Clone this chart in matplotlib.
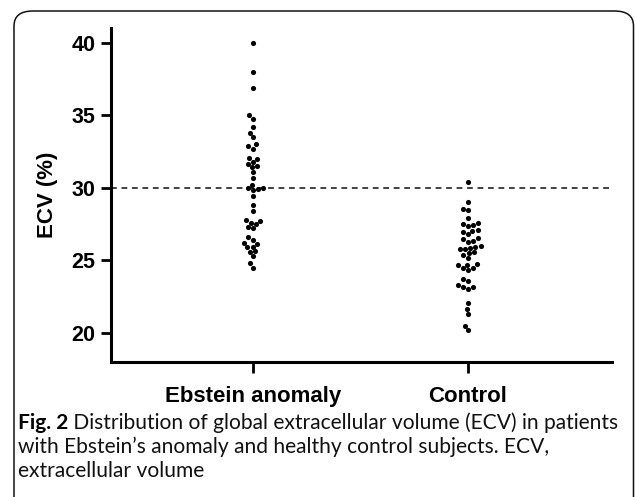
import pandas as pd
import matplotlib.pyplot as plt
import seaborn as sns
from matplotlib.patches import FancyBboxPatch

# ECV values (%)
ebstein = [40.0, 38.0, 36.85, 35.0, 34.75, 34.2, 33.8, 33.5, 33.0, 32.9, 32.7,
           32.05, 32.0, 31.8, 31.65, 31.5, 31.45, 31.1, 30.7, 30.2, 30.0, 29.95,
           29.9, 29.85, 29.4, 28.8, 28.4, 27.8, 27.7, 27.6, 27.5, 27.3, 27.2,
           26.6, 26.4, 26.2, 26.1, 25.95, 25.9, 25.65, 25.6, 25.3, 24.8, 24.5]
control = [30.4, 29.0, 28.55, 28.45, 27.95, 27.6, 27.47, 27.4, 27.35, 27.1, 27.0,
           26.95, 26.8, 26.55, 26.45, 26.35, 26.25, 26.0, 25.95, 25.85, 25.8,
           25.75, 25.55, 25.5, 25.35, 25.15, 24.75, 24.7, 24.65, 24.5, 24.45,
           24.35, 23.7, 23.55, 23.3, 23.15, 23.15, 23.0, 22.05, 21.65, 21.3,
           20.5, 20.2]
groups = ['Ebstein anomaly', 'Control']
yticks = [20, 25, 30, 35, 40]
cutoff = 30

df = pd.DataFrame({'group': [groups[0]] * len(ebstein) + [groups[1]] * len(control),
                   'ecv': ebstein + control})

plt.rcParams['font.family'] = ['Liberation Sans', 'DejaVu Sans']

fig = plt.figure(figsize=(6.35, 4.97), dpi=100)
ax = fig.add_axes([0.1748, 0.2716, 0.789, 0.6721])

ax.axhline(cutoff, color='#333333', linewidth=1.3, dashes=(3.2, 2.6), zorder=1)
sns.swarmplot(data=df, x='group', y='ecv', order=groups, color='black',
              size=3.7, ax=ax, zorder=3)

ax.set_xlim(-0.66, 1.67)
ax.set_ylim(18, 41)
ax.set_yticks(yticks)
ax.set_xlabel('')
ax.set_ylabel('ECV (%)', fontsize=16, fontweight='bold', labelpad=10)
for s in ['top', 'right']:
    ax.spines[s].set_visible(False)
for s in ['left', 'bottom']:
    ax.spines[s].set_linewidth(2.2)
ax.tick_params(axis='both', width=2.0, length=7, pad=4)
ax.tick_params(axis='y', labelsize=15.5)
ax.tick_params(axis='x', length=8, pad=9, labelsize=16)
for lab in ax.get_xticklabels() + ax.get_yticklabels():
    lab.set_fontweight('bold')

# rounded frame around the figure panel
frame = FancyBboxPatch((14 / 635, -0.1), 619.5 / 635, 1.1 - 11 / 497,
                       boxstyle='round,pad=0,rounding_size=0.03',
                       transform=fig.transFigure, fill=False,
                       edgecolor='#111111', linewidth=1.1, clip_on=False)
fig.patches.append(frame)

cap_font = ['Lato', 'DejaVu Sans']
cap_size = 15.1
t1 = fig.text(18 / 635, 1 - 429 / 497, 'Fig. 2', fontsize=cap_size,
              fontweight='bold', family=cap_font, va='baseline')
ax.annotate(' Distribution of global extracellular volume (ECV) in patients',
            xy=(1, 0), xycoords=t1, va='bottom', ha='left',
            fontsize=cap_size, family=cap_font, color='#111111',
            annotation_clip=False)
fig.text(18 / 635, 1 - 453 / 497,
         'with Ebstein\u2019s anomaly and healthy control subjects. ECV,',
         fontsize=cap_size, family=cap_font, va='baseline', color='#111111')
fig.text(18 / 635, 1 - 477 / 497, 'extracellular volume',
         fontsize=cap_size, family=cap_font, va='baseline', color='#111111')

plt.savefig('out.png', dpi=100)
